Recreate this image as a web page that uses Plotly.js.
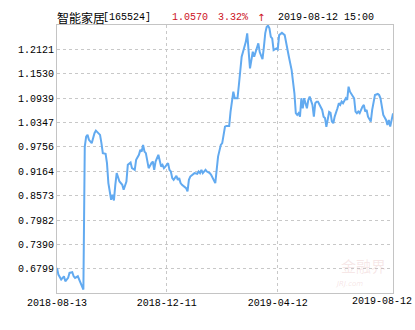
<!DOCTYPE html>
<html>
<head>
<meta charset="utf-8">
<script src="https://cdn.plot.ly/plotly-3.0.1.min.js"></script>
<style>html,body{margin:0;padding:0;background:#fff;}#chart{width:415px;height:330px;}</style>
</head>
<body>
<div id="chart"></div>
<script>
// Trading-day index (0 = 2018-08-13) and unit NAV
const days = [0,1,3,5,6,8,9,11,12,13,15,16,17,19,20,21,22,23,25,26,27,28,30,31,32,33,35,36,37,38,39,40,41,42,43,45,47,48,50,51,53,54,56,57,59,60,61,62,63,64,65,66,68,69,70,71,73,74,75,76,77,78,80,81,82,83,84,86,87,88,89,90,92,93,94,95,96,98,99,101,102,103,104,105,107,108,110,111,113,114,115,116,118,119,120,121,122,124,125,126,127,128,130,131,132,133,134,136,137,138,139,140,141,142,144,145,146,148,149,150,151,152,153,154,155,156,158,159,160,161,162,164,165,166,167,169,170,171,172,173,174,175,176,177,178,179,180,181,182,184,185,186,187,188,190,191,192,193,194,196,197,198,199,200,202,203,204,205,206,208,209,210,211,213,214,215,216,217,218,220,221,222,223,224,226,227,228,229,231,232,233,234,235,237,238,239,240,242];
const nav = [0.6823,0.6661,0.6540,0.6620,0.6499,0.6581,0.6702,0.6717,0.6620,0.6581,0.6620,0.6540,0.6460,0.6298,0.9765,1.0007,1.0048,0.9927,0.9847,1.0007,1.0089,1.0152,1.0089,1.0048,0.9847,0.9605,0.9588,0.9363,0.8879,0.8717,0.8475,0.8596,0.8459,0.8838,0.9121,0.8918,0.8838,0.8717,0.8918,0.9322,0.9378,0.9242,0.9201,0.9443,0.9564,0.9685,0.9644,0.9806,0.9644,0.9605,0.9443,0.9242,0.9363,0.9402,0.9201,0.9402,0.9564,0.9443,0.9281,0.9322,0.9242,0.9281,0.9363,0.9201,0.9160,0.9000,0.8959,0.9056,0.8959,0.9000,0.8879,0.8838,0.8797,0.8758,0.8676,0.8959,0.9039,0.9080,0.9121,0.9104,0.9160,0.9121,0.9201,0.9121,0.9201,0.9160,0.9121,0.9080,0.8959,0.8879,0.9201,0.9523,0.9806,0.9847,1.0048,1.0249,1.0266,1.0266,1.0612,1.0936,1.1095,1.0936,1.0936,1.1257,1.1579,1.1942,1.2063,1.2305,1.2508,1.2104,1.1661,1.1862,1.2063,1.1942,1.2184,1.2266,1.2056,1.1886,1.2177,1.2515,1.2661,1.2697,1.2629,1.2426,1.2387,1.2104,1.2145,1.2121,1.2467,1.2508,1.2523,1.2467,1.2266,1.2104,1.1942,1.1620,1.1337,1.1057,1.0573,1.0532,1.0573,1.0491,1.0936,1.0694,1.0936,1.0815,1.0694,1.0895,1.0974,1.0774,1.0491,1.0815,1.0853,1.0853,1.0694,1.0653,1.0491,1.0459,1.0241,1.0604,1.0580,1.0370,1.0331,1.0491,1.0694,1.0815,1.0774,1.0853,1.0815,1.0936,1.0895,1.1216,1.1095,1.0974,1.0936,1.0612,1.0573,1.0612,1.0573,1.0732,1.0774,1.0612,1.0653,1.0491,1.0370,1.0653,1.0895,1.1015,1.1040,1.1015,1.0936,1.0732,1.0532,1.0411,1.0290,1.0411,1.0249,1.0570];

const xTickDays = [0, 79, 159, 242];
const xTickLabels = ['2018-08-13', '2018-12-11', '2019-04-12', '2019-08-12'];
const yTicks = [0.6799, 0.7390, 0.7982, 0.8573, 0.9164, 0.9756, 1.0347, 1.0939, 1.1530, 1.2121];

const fundName = '智能家居';
const fundCode = '[165524]';
const lastNav = '1.0570';
const lastChange = '3.32%';
const arrow = '↑';
const timeStamp = '2019-08-12 15:00';

const mono = 'Liberation Mono, DejaVu Sans Mono, monospace';
const grid = '#c8c8c8';

const trace = {
  x: days, y: nav, type: 'scatter', mode: 'lines',
  line: {color: '#62aaf0', width: 2},
  hoverinfo: 'skip'
};

function head(text, px, color, font, size) {
  return {text: text, xref: 'paper', yref: 'paper', x: 0, y: 1,
    xanchor: 'left', yanchor: 'middle', xshift: px - 57, yshift: 8,
    showarrow: false, font: {family: font, size: size, color: color}};
}

const layout = {
  width: 415, height: 330,
  margin: {l: 57, r: 22, t: 25, b: 37},
  paper_bgcolor: '#fff', plot_bgcolor: '#fff',
  showlegend: false,
  xaxis: {
    range: [0, 242],
    tickvals: xTickDays.slice(0, 3), ticktext: xTickLabels.slice(0, 3),
    showgrid: true, gridcolor: grid, griddash: '3px,3px', gridwidth: 1,
    zeroline: false, showline: true, mirror: true, linecolor: '#c4c4c4', linewidth: 1,
    ticks: '', tickfont: {family: mono, size: 10, color: '#000'}
  },
  yaxis: {
    range: [0.6215, 1.2712],
    tickvals: yTicks, tickformat: '.4f',
    showgrid: true, gridcolor: grid, griddash: '3px,3px', gridwidth: 1,
    zeroline: false, showline: true, mirror: true, linecolor: '#c4c4c4', linewidth: 1,
    ticks: '', tickfont: {family: mono, size: 10, color: '#000'}
  },
  annotations: [
    {text: '金融界', xref: 'paper', yref: 'paper', x: 1, y: 0, xanchor: 'right', yanchor: 'middle',
     xshift: -5, yshift: 28, showarrow: false,
     font: {family: 'Noto Sans CJK SC', size: 15, color: 'rgba(225,170,170,0.28)'}},
    {text: '<i>JRJ.com</i>', xref: 'paper', yref: 'paper', x: 1, y: 0, xanchor: 'left', yanchor: 'middle',
     xshift: -60, yshift: 9, showarrow: false,
     font: {family: 'DejaVu Sans', size: 7, color: 'rgba(225,170,170,0.3)'}},
    head(fundName, 55, '#000', 'Noto Sans CJK SC', 12),
    head(fundCode, 101, '#000', mono, 10),
    head(lastNav, 170, '#cc1122', mono, 10),
    head(lastChange, 216, '#cc1122', mono, 10),
    head(arrow, 255, '#cc1122', 'DejaVu Sans', 10),
    head(timeStamp, 276, '#000', mono, 10),
    {text: xTickLabels[3], xref: 'x', yref: 'paper', x: xTickDays[3], y: 0,
     xanchor: 'center', yanchor: 'top', xshift: -11, yshift: -1, showarrow: false,
     font: {family: mono, size: 10, color: '#000'}}
  ]
};

Plotly.newPlot('chart', [trace], layout, {staticPlot: true, displayModeBar: false});
</script>
</body>
</html>
